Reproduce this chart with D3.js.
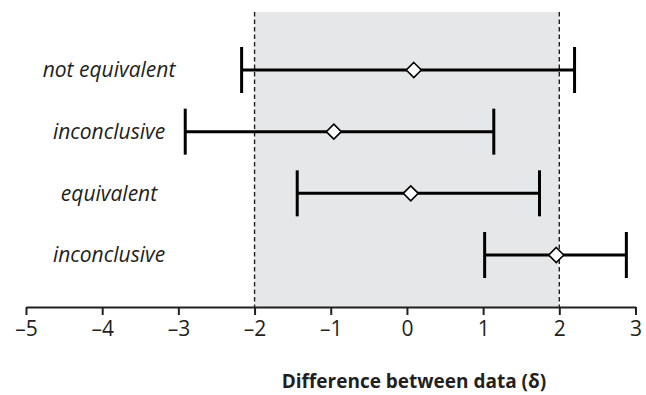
<!DOCTYPE html>
<html>
<head>
<meta charset="utf-8">
<script src="https://cdn.jsdelivr.net/npm/d3@7"></script>
<style>
  html, body { margin: 0; padding: 0; background: #fff; }
  svg { display: block; }
</style>
</head>
<body>
<svg id="chart" width="646" height="395"></svg>
<script>
// ---- data ----
const labels   = ["not equivalent", "inconclusive", "equivalent", "inconclusive"];
const lower    = [-2.17, -2.91, -1.44, 1.02];
const estimate = [0.09, -0.96, 0.05, 1.96];
const upper    = [2.20, 1.14, 1.74, 2.88];
const bounds   = [-2, 2];
const xTicks   = [-5, -4, -3, -2, -1, 0, 1, 2, 3];
const xTitle   = "Difference between data (δ)";

// ---- layout ----
const svg = d3.select("#chart");
const axisY = 307, topY = 12;
const x = d3.scaleLinear().domain([-5, 3]).range([26, 635.5]);
const y = d3.scalePoint().domain(d3.range(labels.length)).range([70, 255]);

// shaded equivalence region
svg.append("rect")
  .attr("x", x(bounds[0])).attr("y", topY)
  .attr("width", x(bounds[1]) - x(bounds[0]))
  .attr("height", axisY - topY)
  .attr("fill", "#e6e7e8");

// dashed bounds
svg.selectAll("line.bound").data(bounds).join("line")
  .attr("class", "bound")
  .attr("x1", d => x(d)).attr("x2", d => x(d))
  .attr("y1", topY).attr("y2", axisY)
  .attr("stroke", "#231f20").attr("stroke-width", 1.4)
  .attr("stroke-dasharray", "4.5,3");

// axis
const axis = d3.axisBottom(x).tickValues(xTicks).tickSize(8).tickSizeOuter(0).tickPadding(6)
  .tickFormat(d => d < 0 ? "\u2013" + Math.abs(d) : String(d));
const gAxis = svg.append("g").attr("transform", `translate(0,${axisY})`).call(axis);
gAxis.select(".domain").attr("stroke", "#231f20").attr("stroke-width", 2);
gAxis.selectAll(".tick line").attr("stroke", "#231f20").attr("stroke-width", 2);
gAxis.selectAll(".tick text")
  .attr("fill", "#231f20")
  .style("font-family", "'Open Sans', sans-serif")
  .style("font-size", "21px");

// axis title
svg.append("text")
  .attr("x", 414).attr("y", 388)
  .attr("text-anchor", "middle")
  .style("font-family", "'Open Sans', sans-serif")
  .style("font-weight", "bold")
  .style("font-size", "19px")
  .attr("fill", "#231f20")
  .text(xTitle);

// rows
const idx = d3.range(labels.length);
const capH = 23;
const rows = svg.append("g");
rows.selectAll("line.ci").data(idx).join("line")
  .attr("x1", i => x(lower[i])).attr("x2", i => x(upper[i]))
  .attr("y1", i => y(i)).attr("y2", i => y(i))
  .attr("stroke", "#000").attr("stroke-width", 3);
rows.selectAll("line.capL").data(idx).join("line")
  .attr("x1", i => x(lower[i])).attr("x2", i => x(lower[i]))
  .attr("y1", i => y(i) - capH).attr("y2", i => y(i) + capH)
  .attr("stroke", "#000").attr("stroke-width", 3);
rows.selectAll("line.capR").data(idx).join("line")
  .attr("x1", i => x(upper[i])).attr("x2", i => x(upper[i]))
  .attr("y1", i => y(i) - capH).attr("y2", i => y(i) + capH)
  .attr("stroke", "#000").attr("stroke-width", 3);
const dm = 7.5;
rows.selectAll("path.est").data(idx).join("path")
  .attr("d", i => {
    const cx = x(estimate[i]), cy = y(i);
    return `M${cx},${cy - dm}L${cx + dm},${cy}L${cx},${cy + dm}L${cx - dm},${cy}Z`;
  })
  .attr("fill", "#fff").attr("stroke", "#000").attr("stroke-width", 1.6);

// row labels
svg.selectAll("text.lab").data(idx).join("text")
  .attr("x", 109).attr("y", i => y(i))
  .attr("dy", "0.35em")
  .attr("text-anchor", "middle")
  .style("font-family", "'Open Sans', sans-serif")
  .style("font-style", "italic")
  .style("font-size", "21px")
  .attr("fill", "#231f20")
  .text(i => labels[i]);
</script>
</body>
</html>
